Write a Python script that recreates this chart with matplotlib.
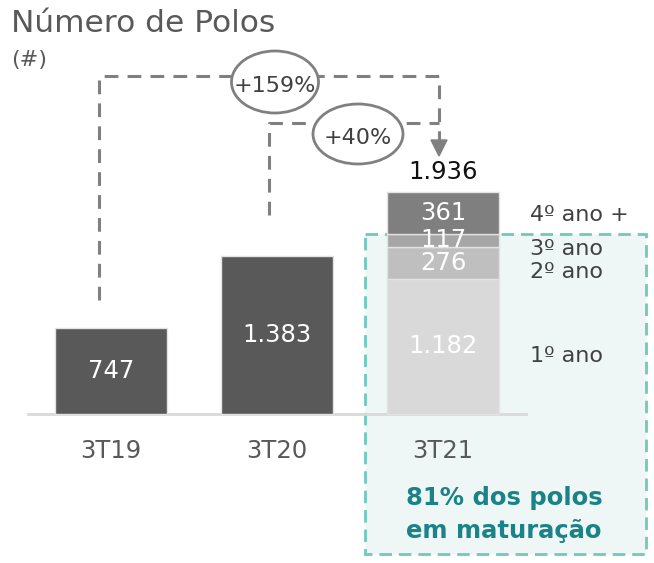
import matplotlib.pyplot as plt
from matplotlib.patches import Ellipse, Rectangle, Polygon

categorias = ['3T19', '3T20', '3T21']
totais = [747, 1383, 1936]
# composicao do 3T21 por ano de maturacao (de baixo para cima)
faixas = ['1º ano', '2º ano', '3º ano', '4º ano +']
valores_3t21 = [1182, 276, 117, 361]
crescimentos = ['+159%', '+40%']

plt.rcParams['font.family'] = ['DejaVu Sans']

W, H = 654, 563
fig = plt.figure(figsize=(W / 100, H / 100), dpi=100)

# eixo dos dados: mapeado para os pixels da figura
X0, DX = 111.0, 166.0     # centro da 1a barra e espacamento (px)
Y0, K = 414.0, 0.1146     # linha de base (px) e px por unidade
ax = fig.add_axes([0, 0, 1, 1])
ax.set_xlim(-X0 / DX, (W - X0) / DX)
ax.set_ylim(-(H - Y0) / K, Y0 / K)
ax.axis('off')

# overlay em pixels para as anotacoes
ov = fig.add_axes([0, 0, 1, 1], zorder=5)
ov.set_xlim(0, W)
ov.set_ylim(H, 0)
ov.axis('off')
ov.patch.set_alpha(0)

largura = 112 / DX
x = list(range(len(categorias)))

# caixa de maturacao
ax.add_patch(Rectangle((365, 234), 281, 320, transform=ov.transData,
                       facecolor='#eef7f6', edgecolor='#6dcabc', lw=2,
                       linestyle=(0, (4.5, 2.5)), zorder=0))

ax.plot([(28 - X0) / DX, (526 - X0) / DX], [0, 0], color='#d9d9d9', lw=2, zorder=1)

ax.bar(x[:2], totais[:2], width=largura, color='#595959', edgecolor='#e3e3e3', lw=1, zorder=2)
cores = ['#d9d9d9', '#bfbfbf', '#a6a6a6', '#7f7f7f']
base = 0
for v, c in zip(valores_3t21, cores):
    ax.bar(x[2], v, bottom=base, width=largura, color=c, edgecolor='#e3e3e3', lw=1, zorder=2)
    ax.text(x[2], base + v / 2, f'{v:,}'.replace(',', '.'), ha='center', va='center',
            color='white', fontsize=17.5, zorder=3)
    base += v

for xi, v in zip(x[:2], totais[:2]):
    ax.text(xi, v / 2, f'{v:,}'.replace(',', '.'), ha='center', va='center',
            color='white', fontsize=17.5, zorder=3)
ax.text(x[2], totais[2] + 20 / K, f'{totais[2]:,}'.replace(',', '.'), ha='center',
        va='center', color='#111111', fontsize=17.5)

for xi, c in zip(x, categorias):
    ax.text(xi, -37 / K, c, ha='center', va='center', color='#595959', fontsize=17.5)

# rotulos das faixas
pos_faixas = [356, 272, 249, 215]
for f, yp in zip(faixas, pos_faixas):
    ov.text(530, yp, f, ha='left', va='center', color='#404040', fontsize=16)

# titulo
ov.text(11, 23, 'Número de Polos', ha='left', va='center', color='#595959', fontsize=22.5)
ov.text(11, 60, '(#)', ha='left', va='center', color='#595959', fontsize=16)

# conectores tracejados
cinza = '#808080'
ls = (0, (4.5, 3))
ov.plot([99, 99, 439, 439], [300, 76, 76, 142], color=cinza, lw=2.2, linestyle=ls, zorder=1)
ov.plot([269, 269, 439], [215, 123, 123], color=cinza, lw=2.2, linestyle=ls, zorder=1)
ov.add_patch(Polygon([[431, 140], [447, 140], [439, 156]], closed=True, color=cinza, zorder=2))

for (cx, cy, w, h), t in zip([(275, 82, 87, 62), (358, 134, 90, 60)], crescimentos):
    ov.add_patch(Ellipse((cx, cy), w, h, facecolor='white', edgecolor=cinza, lw=2, zorder=3))
    ov.text(cx, cy + 4, t, ha='center', va='center', color='#404040', fontsize=16, zorder=4)

ov.text(504, 498, '81% dos polos', ha='center', va='center', color='#1b8388',
        fontsize=17.5, fontweight='bold')
ov.text(504, 531, 'em maturação', ha='center', va='center', color='#1b8388',
        fontsize=17.5, fontweight='bold')

fig.savefig('out.png', dpi=100)
